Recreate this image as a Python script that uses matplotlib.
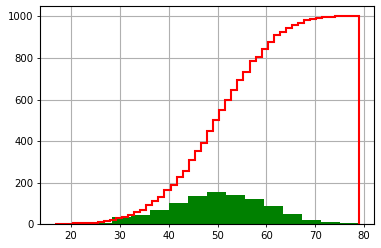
import numpy as np
import matplotlib
matplotlib.use("Agg")
import matplotlib.pyplot as plt

# Data range of the sample
data_min = 16.8
data_max = 78.9

# Green histogram: 16 bins, counts per bin
green_counts = [2, 3, 8, 36, 43, 67, 101, 138, 157, 143, 124, 90, 51, 23, 9, 4]

# Red cumulative step histogram: 50 bins, cumulative counts
red_cumulative = [2, 3, 3, 5, 6, 7, 8, 13, 15, 22,
                  29, 37, 46, 58, 69, 92, 112, 133, 165, 188,
                  226, 258, 309, 353, 393, 449, 504, 550, 600, 646,
                  693, 733, 784, 806, 845, 875, 909, 923, 942, 957,
                  968, 982, 989, 994, 997, 998, 1000, 1000, 1000, 1000]

x_ticks = [20, 30, 40, 50, 60, 70, 80]
y_ticks = [0, 200, 400, 600, 800, 1000]

W, H = 381, 248
fig = plt.figure(figsize=(W / 100, H / 100), dpi=100)
ax = fig.add_axes([40 / W, 1 - 224.3 / H, (374 - 40) / W, (224.3 - 6) / H])

green_edges = np.linspace(data_min, data_max, len(green_counts) + 1)
red_edges = np.linspace(data_min, data_max, len(red_cumulative) + 1)

ax.stairs(green_counts, green_edges, fill=True, color="#008000", zorder=1)
ax.stairs(red_cumulative, red_edges, baseline=0, fill=False,
          color="#ff0000", linewidth=1.5, zorder=2)

ax.set_xlim(13.7, 82.0)
ax.set_ylim(0, 1050)
ax.set_xticks(x_ticks)
ax.set_yticks(y_ticks)
ax.set_axisbelow(True)
ax.grid(True, color="#b0b0b0", linewidth=0.8)
ax.tick_params(labelsize=7.3, length=2.5, width=0.6, pad=2)
for s in ax.spines.values():
    s.set_linewidth(0.8)

fig.savefig("out.png", dpi=100)
